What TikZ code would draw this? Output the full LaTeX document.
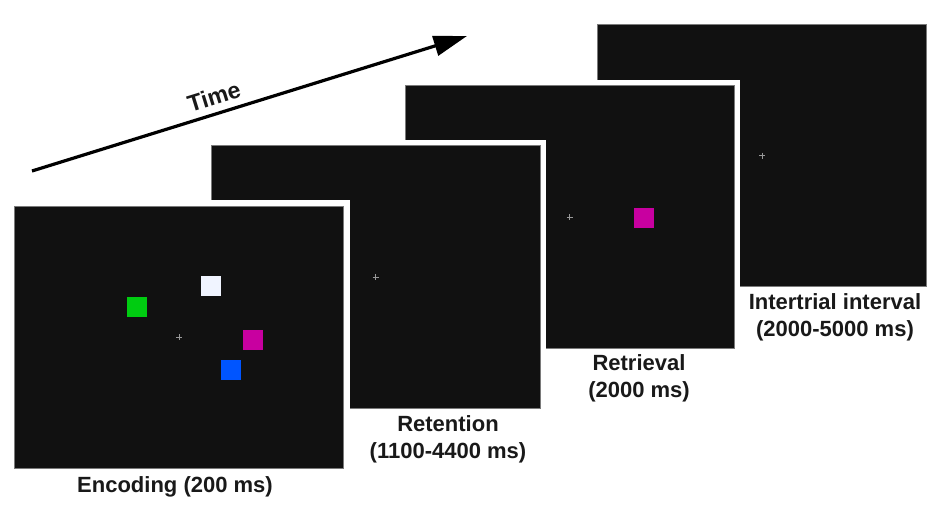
\documentclass[tikz,border=0pt]{standalone}
\usepackage{fontspec}
\setmainfont{Liberation Sans}
\usetikzlibrary{arrows.meta,calc}
\definecolor{scr}{HTML}{111111}
\definecolor{edge}{HTML}{7A7A7A}
\definecolor{sqgreen}{HTML}{00CC11}
\definecolor{sqwhite}{HTML}{F0F4FF}
\definecolor{sqmag}{HTML}{C800A0}
\definecolor{sqblue}{HTML}{0055FF}
\tikzset{
  screen/.style={rectangle, fill=scr, draw=edge, line width=0.75pt,
    minimum width=246.75pt, minimum height=196.5pt, inner sep=0pt, outer sep=0pt,
    preaction={draw=white, line width=9pt}},
  item/.style={rectangle, fill=#1, minimum size=15pt, inner sep=0pt, outer sep=0pt},
  fix/.style={draw=gray!80, line width=0.5pt},
  lab/.style={font=\fontsize{16.5}{20.5}\selectfont\bfseries, align=center, inner sep=0pt, text=black!90},
  timelab/.style={font=\fontsize{17.5}{20.5}\selectfont\bfseries, inner sep=0pt, text=black!90},
  timearrow/.style={line width=2.4pt, -{Triangle[length=25pt,width=15pt]}}
}
\newcommand{\fixcross}[1]{\draw[fix] ($(#1)+(-3,0)$) -- ($(#1)+(3,0)$) ($(#1)+(0,-3)$) -- ($(#1)+(0,3)$);}
\begin{document}
\begin{tikzpicture}[x=0.75pt, y=-0.75pt]
\path[use as bounding box, fill=white] (0,0) rectangle (948,506);
% screens, back to front
\node[screen] (iti) at (762,155.5) {};
\node[screen] (retr) at (569.5,217) {};
\node[screen] (ret) at (375.5,277) {};
\node[screen] (enc) at (179,337) {};
% fixation crosses
\fixcross{iti}
\fixcross{retr}
\fixcross{ret}
\fixcross{enc}
% encoding items
\node[item=sqgreen] (g) at (137,307) {};
\node[item=sqwhite] (w) at (211,286) {};
\node[item=sqmag] (m) at (253,340) {};
\node[item=sqblue] (b) at (231,370) {};
% retrieval probe
\node[item=sqmag] (probe) at (644,218) {};
% labels
\node[lab] (lenc) at (175,487) {Encoding (200 ms)};
\node[lab] (lret) at (448,439) {Retention\\(1100-4400 ms)};
\node[lab] (lretr) at (639,378) {Retrieval\\(2000 ms)};
\node[lab] (liti) at (835,317) {Intertrial interval\\(2000-5000 ms)};
% time arrow
\coordinate (tstart) at (32,171);
\coordinate (tend) at (467,36);
\draw[timearrow] (tstart) -- node[pos=0.43, sloped, above=5pt, timelab] (ltime) {Time} (tend);
\end{tikzpicture}
\end{document}
